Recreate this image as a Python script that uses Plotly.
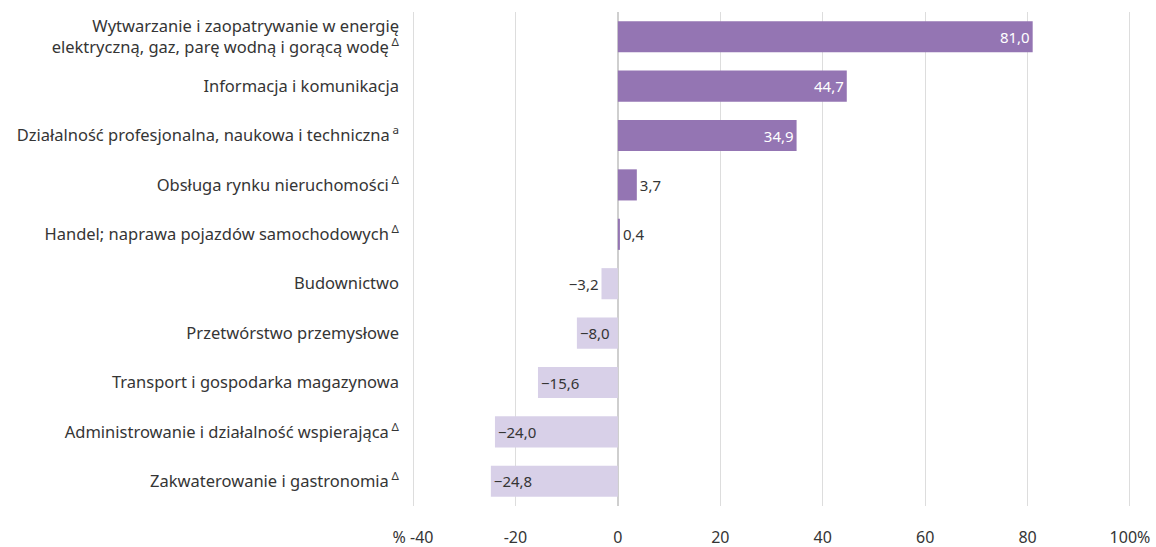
import plotly.graph_objects as go

categories = [
    "Wytwarzanie i zaopatrywanie w energię<br>elektryczną, gaz, parę wodną i gorącą wodę\u2009<sup>Δ</sup>",
    "Informacja i komunikacja",
    "Działalność profesjonalna, naukowa i techniczna\u2009<sup>a</sup>",
    "Obsługa rynku nieruchomości\u2009<sup>Δ</sup>",
    "Handel; naprawa pojazdów samochodowych\u2009<sup>Δ</sup>",
    "Budownictwo",
    "Przetwórstwo przemysłowe",
    "Transport i gospodarka magazynowa",
    "Administrowanie i działalność wspierająca\u2009<sup>Δ</sup>",
    "Zakwaterowanie i gastronomia\u2009<sup>Δ</sup>",
]
values = [81.0, 44.7, 34.9, 3.7, 0.4, -3.2, -8.0, -15.6, -24.0, -24.8]

tick_vals = [-40, -20, 0, 20, 40, 60, 80, 100]
tick_text = ["% -40", "-20", "0", "20", "40", "60", "80", "100%"]

POS_COLOR = "#9475b3"
NEG_COLOR = "#d8d0e8"
TEXT_COLOR = "#353535"
FONT = "Noto Sans"


def fmt(v):
    s = f"{abs(v):.1f}".replace(".", ",")
    return ("\u2212" + s) if v < 0 else s


pos = [(c, v) for c, v in zip(categories, values) if v >= 0]
neg = [(c, v) for c, v in zip(categories, values) if v < 0]

fig = go.Figure()
fig.add_trace(go.Bar(
    y=[c for c, _ in pos], x=[v for _, v in pos], orientation="h",
    marker=dict(color=POS_COLOR, line=dict(width=0)),
    text=[fmt(v) for _, v in pos], textposition="auto", insidetextanchor="end",
    insidetextfont=dict(color="white", size=15, family=FONT),
    outsidetextfont=dict(color=TEXT_COLOR, size=15, family=FONT),
    cliponaxis=False, width=0.63, hoverinfo="skip",
))
fig.add_trace(go.Bar(
    y=[c for c, _ in neg], x=[v for _, v in neg], orientation="h",
    marker=dict(color=NEG_COLOR, line=dict(width=0)),
    text=[fmt(v) for _, v in neg], textposition="auto", insidetextanchor="end",
    insidetextfont=dict(color=TEXT_COLOR, size=15, family=FONT),
    outsidetextfont=dict(color=TEXT_COLOR, size=15, family=FONT),
    cliponaxis=False, width=0.63, hoverinfo="skip",
))

fig.update_layout(
    width=1156, height=547, barmode="relative", showlegend=False,
    paper_bgcolor="white", plot_bgcolor="white",
    font=dict(family=FONT, size=16.5, color=TEXT_COLOR),
    margin=dict(t=12, b=41, l=412, r=25),
    xaxis=dict(range=[-40.2, 100.2], tickvals=tick_vals, ticktext=tick_text,
               showgrid=True, gridcolor="#dddddd", gridwidth=1,
               zeroline=True, zerolinecolor="#cfcfcf", zerolinewidth=2,
               showline=False, ticklabelstandoff=20, tickfont=dict(size=16),
               automargin=False),
    yaxis=dict(categoryorder="array", categoryarray=categories, autorange="reversed",
               showgrid=False, showline=False, ticklabelstandoff=12,
               tickfont=dict(size=16.5), automargin=False),
)

# the page body has a default 8px margin; remove it so the figure sits at 0,0
fig.write_html("out.html", config={"displayModeBar": False},
               post_script="document.body.style.margin='0';")
